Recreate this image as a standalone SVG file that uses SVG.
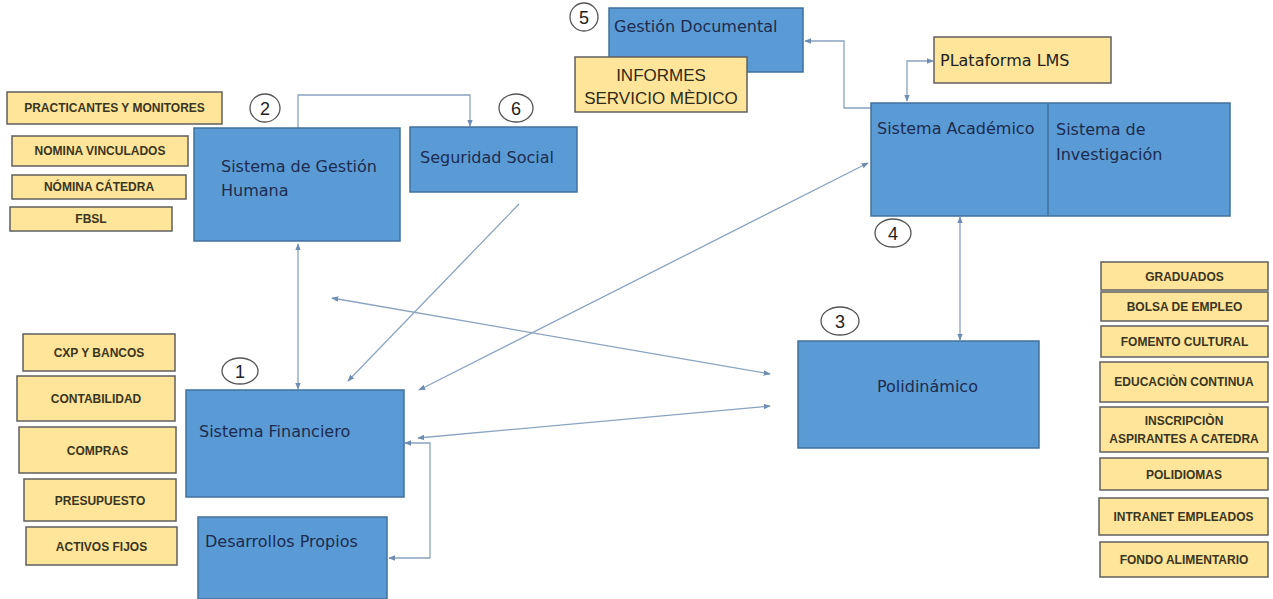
<svg xmlns="http://www.w3.org/2000/svg" width="1273" height="599" viewBox="0 0 1273 599">
<defs>
<marker id="ar" viewBox="0 0 10 10" refX="9" refY="5" markerWidth="7" markerHeight="7" orient="auto-start-reverse" markerUnits="userSpaceOnUse">
<path d="M0,1 L10,5 L0,9 Z" fill="#6f8db0"/>
</marker>
<style>
.blue{fill:#5b9bd5;stroke:#41719c;stroke-width:1.5}
.yel{fill:#fee59a;stroke:#5f5f5f;stroke-width:1.5}
.bt{font-family:"DejaVu Sans",sans-serif;font-size:16px;fill:#1c2b4f}
.yt{font-family:"Liberation Sans",Arial,sans-serif;font-size:12px;fill:#3a3520;text-anchor:middle;font-weight:bold}
.yt.big{font-size:17px;font-weight:normal;fill:#2f2a18}
.num{fill:#fff;stroke:#555;stroke-width:1.3}
.nt{font-family:"Liberation Sans",Arial,sans-serif;font-size:18px;fill:#222;text-anchor:middle}
.cn{fill:none;stroke:#8aa3c0;stroke-width:1.3}
</style>
</defs>
<rect width="1273" height="599" fill="#fff"/>

<g id="connectors">
<polyline class="cn" points="298,128 298,95 470,95 470,126" marker-end="url(#ar)"/>
<line class="cn" x1="298" y1="244" x2="298" y2="389" marker-start="url(#ar)" marker-end="url(#ar)"/>
<line class="cn" x1="519" y1="204" x2="348" y2="381" marker-end="url(#ar)"/>
<line class="cn" x1="332" y1="298" x2="770" y2="374" marker-start="url(#ar)" marker-end="url(#ar)"/>
<line class="cn" x1="419" y1="390" x2="868" y2="163" marker-start="url(#ar)" marker-end="url(#ar)"/>
<line class="cn" x1="418" y1="438" x2="770" y2="406" marker-start="url(#ar)" marker-end="url(#ar)"/>
<polyline class="cn" points="405,443 430,443 430,558 389,558" marker-start="url(#ar)" marker-end="url(#ar)"/>
<polyline class="cn" points="872,108 844,108 844,41 805,41" marker-end="url(#ar)"/>
<polyline class="cn" points="907,101 907,61 933,61" marker-start="url(#ar)" marker-end="url(#ar)"/>
<line class="cn" x1="960" y1="217" x2="960" y2="340" marker-start="url(#ar)" marker-end="url(#ar)"/>
</g>

<g id="n-practicantes"><rect class="yel" x="7" y="92" width="215" height="32"/><text class="yt" x="114.5" y="112">PRACTICANTES Y MONITORES</text></g>
<g id="n-nomina-vinc"><rect class="yel" x="12" y="136" width="176" height="30"/><text class="yt" x="100" y="155">NOMINA VINCULADOS</text></g>
<g id="n-nomina-cat"><rect class="yel" x="12" y="175" width="174" height="24"/><text class="yt" x="99" y="191">NÓMINA CÁTEDRA</text></g>
<g id="n-fbsl"><rect class="yel" x="10" y="207" width="162" height="24"/><text class="yt" x="91" y="223">FBSL</text></g>

<g id="n-gestion-humana"><rect class="blue" x="194" y="128" width="206" height="113"/><text class="bt" x="221" y="172">Sistema de Gestión</text><text class="bt" x="221" y="196">Humana</text></g>
<g id="c2"><ellipse class="num" cx="265" cy="108" rx="15" ry="14"/><text class="nt" x="265" y="115">2</text></g>

<g id="n-seguridad"><rect class="blue" x="410" y="127" width="167" height="65"/><text class="bt" x="420" y="163">Seguridad Social</text></g>
<g id="c6"><ellipse class="num" cx="516" cy="108" rx="17" ry="14"/><text class="nt" x="516" y="115">6</text></g>

<g id="n-gestion-doc"><rect class="blue" x="609" y="8" width="194" height="64"/><text class="bt" x="614" y="32">Gestión Documental</text></g>
<g id="c5"><ellipse class="num" cx="584" cy="17" rx="14" ry="14"/><text class="nt" x="584" y="24">5</text></g>
<g id="n-informes"><rect class="yel" x="575" y="57" width="172" height="55"/><text class="yt big" x="661" y="81">INFORMES</text><text class="yt big" x="661" y="104">SERVICIO MÈDICO</text></g>

<g id="n-lms"><rect class="yel" x="934" y="37" width="177" height="46"/><text class="bt" x="940" y="66" style="fill:#222">PLataforma LMS</text></g>

<g id="n-academico"><rect class="blue" x="871" y="103" width="359" height="113"/><line x1="1048" y1="103" x2="1048" y2="216" stroke="#41719c" stroke-width="1.5"/><text class="bt" x="877" y="134">Sistema Académico</text><text class="bt" x="1056" y="135">Sistema de</text><text class="bt" x="1056" y="160">Investigación</text></g>
<g id="c4"><ellipse class="num" cx="893" cy="233" rx="18" ry="14"/><text class="nt" x="893" y="240">4</text></g>

<g id="n-polidinamico"><rect class="blue" x="798" y="341" width="241" height="107"/><text class="bt" x="877" y="392">Polidinámico</text></g>
<g id="c3"><ellipse class="num" cx="840" cy="321" rx="19" ry="14"/><text class="nt" x="840" y="328">3</text></g>

<g id="n-graduados"><rect class="yel" x="1101" y="262" width="167" height="28"/><text class="yt" x="1184.5" y="281">GRADUADOS</text></g>
<g id="n-bolsa"><rect class="yel" x="1101" y="292" width="167" height="29"/><text class="yt" x="1184.5" y="311">BOLSA DE EMPLEO</text></g>
<g id="n-fomento"><rect class="yel" x="1101" y="326" width="167" height="31"/><text class="yt" x="1184.5" y="346">FOMENTO CULTURAL</text></g>
<g id="n-educacion"><rect class="yel" x="1100" y="362" width="168" height="40"/><text class="yt" x="1184" y="386">EDUCACIÒN CONTINUA</text></g>
<g id="n-inscripcion"><rect class="yel" x="1100" y="407" width="168" height="45"/><text class="yt" x="1184" y="425">INSCRIPCIÒN</text><text class="yt" x="1184" y="443">ASPIRANTES A CATEDRA</text></g>
<g id="n-polidiomas"><rect class="yel" x="1100" y="458" width="168" height="32"/><text class="yt" x="1184" y="479">POLIDIOMAS</text></g>
<g id="n-intranet"><rect class="yel" x="1099" y="498" width="169" height="37"/><text class="yt" x="1183.5" y="521">INTRANET EMPLEADOS</text></g>
<g id="n-fondo"><rect class="yel" x="1100" y="542" width="168" height="35"/><text class="yt" x="1184" y="564">FONDO ALIMENTARIO</text></g>

<g id="n-cxp"><rect class="yel" x="23" y="334" width="152" height="37"/><text class="yt" x="99" y="357">CXP Y BANCOS</text></g>
<g id="n-contabilidad"><rect class="yel" x="17" y="376" width="158" height="45"/><text class="yt" x="96" y="403">CONTABILIDAD</text></g>
<g id="n-compras"><rect class="yel" x="19" y="427" width="157" height="46"/><text class="yt" x="97.5" y="455">COMPRAS</text></g>
<g id="n-presupuesto"><rect class="yel" x="24" y="479" width="152" height="42"/><text class="yt" x="100" y="505">PRESUPUESTO</text></g>
<g id="n-activos"><rect class="yel" x="26" y="527" width="151" height="38"/><text class="yt" x="101.5" y="551">ACTIVOS FIJOS</text></g>

<g id="n-financiero"><rect class="blue" x="186" y="390" width="218" height="107"/><text class="bt" x="199" y="437">Sistema Financiero</text></g>
<g id="c1"><ellipse class="num" cx="240" cy="371" rx="18" ry="13"/><text class="nt" x="240" y="378">1</text></g>

<g id="n-desarrollos"><rect class="blue" x="198" y="517" width="189" height="82"/><text class="bt" x="205" y="547">Desarrollos Propios</text></g>
</svg>
